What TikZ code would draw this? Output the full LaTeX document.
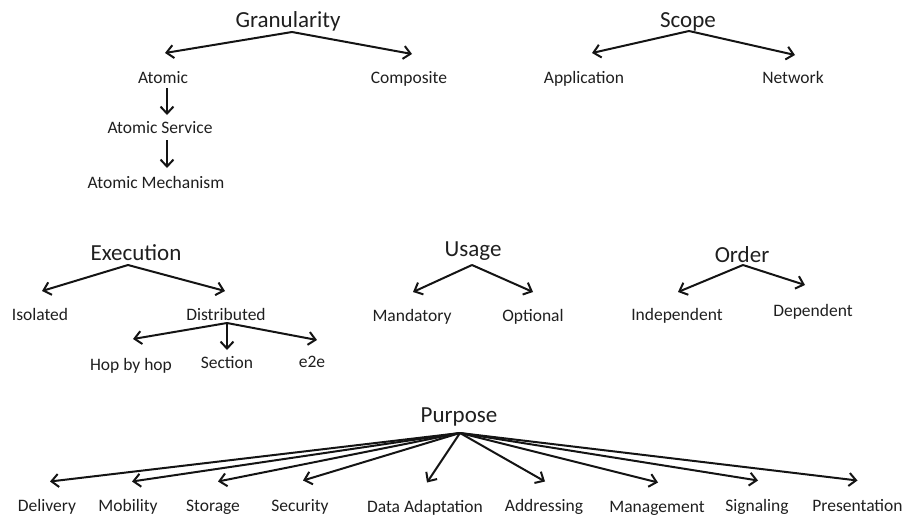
\documentclass[tikz,border=0pt]{standalone}
\usepackage{fontspec}
\setmainfont{Carlito}
\usetikzlibrary{arrows.meta,calc}
\begin{document}
\begin{tikzpicture}[x=1pt,y=-1pt,
  title/.style={font=\fontsize{23}{27}\selectfont, text=black!88, inner sep=0pt, text height=16pt, text depth=2pt},
  lab/.style={font=\fontsize{17.5}{20}\selectfont, text=black!88, inner sep=0pt, text height=12.5pt, text depth=1.5pt},
  arr/.style={line width=2pt, black!92, -{Straight Barb[length=7pt,width=13pt]}, line join=round}]
\useasboundingbox (0,0) rectangle (907,515);

% Granularity
\node[title] (gran) at (288,20) {Granularity};
\node[lab] (atomic) at (163,78) {Atomic};
\node[lab] (comp) at (409,78) {Composite};
\node[lab] (aserv) at (160,128) {Atomic Service};
\node[lab] (amech) at (156,183) {Atomic Mechanism};
\coordinate (granA) at ($(gran)+(4,12)$);
\draw[arr] (granA) -- ($(atomic)+(2,-25)$);
\draw[arr] (granA) -- ($(comp)+(3,-24)$);
\draw[arr] ($(atomic)+(4,10)$) -- ($(aserv)+(7,-13)$);
\draw[arr] ($(aserv)+(7,12)$) -- ($(amech)+(11,-15)$);

% Scope
\node[title] (scope) at (688,20) {Scope};
\node[lab] (app) at (584,78) {Application};
\node[lab] (net) at (793,78) {Network};
\coordinate (scopeA) at ($(scope)+(1,11)$);
\draw[arr] (scopeA) -- ($(app)+(8,-25)$);
\draw[arr] (scopeA) -- ($(net)+(2,-23)$);

% Execution
\node[title] (exec) at (136,253) {Execution};
\node[lab] (iso) at (40,315) {Isolated};
\node[lab] (dist) at (226,315) {Distributed};
\node[lab] (hop) at (131,365) {Hop by hop};
\node[lab] (sect) at (227,363) {Section};
\node[lab] (ete) at (312,361.5) {e2e};
\coordinate (execA) at ($(exec)+(-8,12)$);
\draw[arr] (execA) -- ($(iso)+(2,-24)$);
\draw[arr] (execA) -- ($(dist)+(-1,-24)$);
\coordinate (distA) at ($(dist)+(1,8)$);
\draw[arr] (distA) -- ($(hop)+(2,-26)$);
\draw[arr] (distA) -- ($(sect)+(0,-13)$);
\draw[arr] (distA) -- ($(ete)+(5,-21.5)$);

% Usage
\node[title] (usage) at (473,249) {Usage};
\node[lab] (mand) at (412,316) {Mandatory};
\node[lab] (opt) at (533,316) {Optional};
\coordinate (usageA) at ($(usage)+(-1,16)$);
\draw[arr] (usageA) -- ($(mand)+(1,-24)$);
\draw[arr] (usageA) -- ($(opt)+(0,-24)$);

% Order
\node[title] (order) at (742,255) {Order};
\node[lab] (indep) at (677,315) {Independent};
\node[lab] (dep) at (813,311) {Dependent};
\coordinate (orderA) at ($(order)+(1,10)$);
\draw[arr] (orderA) -- ($(indep)+(1,-23)$);
\draw[arr] (orderA) -- ($(dep)+(-8,-26)$);

% Purpose
\node[title] (purp) at (459,415) {Purpose};
\node[lab] (deliv) at (47,505.5) {Delivery};
\node[lab] (mob) at (128,505.5) {Mobility};
\node[lab] (stor) at (213,505.5) {Storage};
\node[lab] (sec) at (300,505.5) {Security};
\node[lab] (dada) at (425,506.5) {Data Adaptation};
\node[lab] (addr) at (544,505.5) {Addressing};
\node[lab] (mgmt) at (657,506.5) {Management};
\node[lab] (sig) at (757,505.5) {Signaling};
\node[lab] (pres) at (857.5,505.5) {Presentation};
\coordinate (purpA) at ($(purp)+(1,18)$);
\draw[arr] (purpA) -- ($(deliv)+(3,-24)$);
\draw[arr] (purpA) -- ($(mob)+(4,-24)$);
\draw[arr] (purpA) -- ($(stor)+(5,-24)$);
\draw[arr] (purpA) -- ($(sec)+(3,-25)$);
\draw[arr] (purpA) -- ($(dada)+(2,-24)$);
\draw[arr] (purpA) -- ($(addr)+(1,-24)$);
\draw[arr] (purpA) -- ($(mgmt)+(1,-24)$);
\draw[arr] (purpA) -- ($(sig)+(1,-25)$);
\draw[arr] (purpA) -- ($(pres)+(0,-25)$);
\end{tikzpicture}
\end{document}
